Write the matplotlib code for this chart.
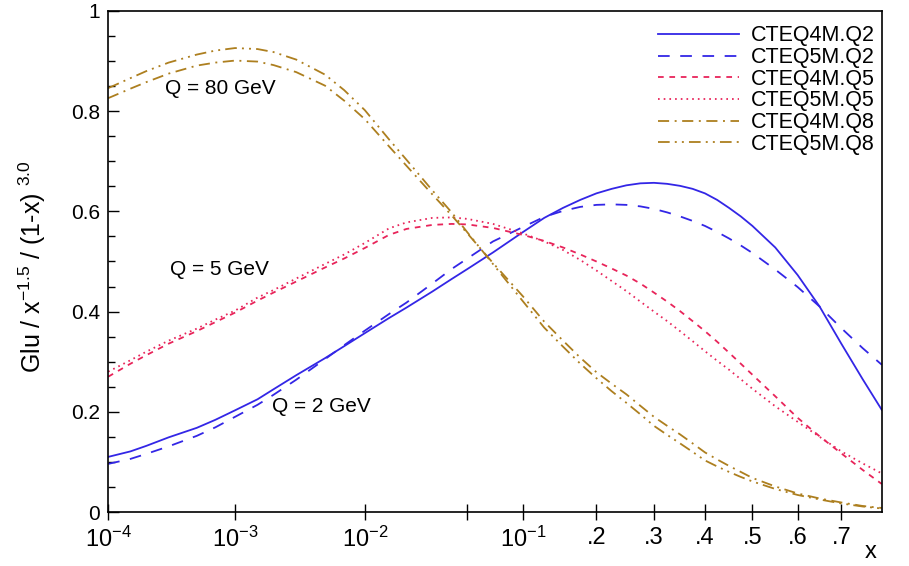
import numpy as np
import matplotlib
matplotlib.use('Agg')
import matplotlib.pyplot as plt
from matplotlib.ticker import FixedLocator, MultipleLocator, NullLocator

plt.rcParams['font.family'] = ['Liberation Sans', 'DejaVu Sans']
plt.rcParams['mathtext.fontset'] = 'custom'
plt.rcParams['mathtext.rm'] = 'Liberation Sans'
plt.rcParams['mathtext.default'] = 'regular'
plt.rcParams['lines.scale_dashes'] = False

# values
x = [1e-4, 1.5e-4, 2e-4, 3e-4, 5e-4, 7e-4, 1e-3, 1.5e-3, 2e-3, 3e-3, 5e-3, 7e-3,
     0.01, 0.015, 0.02, 0.03, 0.04, 0.05, 0.07, 0.1, 0.125, 0.15, 0.175, 0.2,
     0.225, 0.25, 0.275, 0.3, 0.325, 0.35, 0.375, 0.4, 0.425, 0.45, 0.475, 0.5,
     0.55, 0.6, 0.65, 0.7, 0.75, 0.795]

glu_4m_q2 = [0.110, 0.121, 0.132, 0.149, 0.168, 0.184, 0.203, 0.225, 0.245, 0.273, 0.307, 0.331,
             0.357, 0.387, 0.408, 0.440, 0.465, 0.485, 0.518, 0.559, 0.587, 0.607, 0.623, 0.636,
             0.645, 0.652, 0.656, 0.657, 0.655, 0.651, 0.645, 0.636, 0.623, 0.607, 0.590, 0.571,
             0.528, 0.473, 0.410, 0.336, 0.265, 0.204]
glu_5m_q2 = [0.096, 0.106, 0.116, 0.131, 0.152, 0.169, 0.190, 0.214, 0.234, 0.264, 0.305, 0.333,
             0.362, 0.395, 0.418, 0.456, 0.485, 0.506, 0.540, 0.569, 0.589, 0.601, 0.609, 0.613,
             0.614, 0.613, 0.610, 0.605, 0.598, 0.590, 0.581, 0.571, 0.559, 0.546, 0.532, 0.517,
             0.484, 0.449, 0.410, 0.367, 0.327, 0.294]
glu_4m_q5 = [0.270, 0.296, 0.313, 0.336, 0.361, 0.379, 0.398, 0.422, 0.438, 0.460, 0.488, 0.506,
             0.527, 0.553, 0.565, 0.573, 0.575, 0.574, 0.567, 0.553, 0.541, 0.528, 0.514, 0.500,
             0.486, 0.472, 0.456, 0.438, 0.420, 0.401, 0.381, 0.361, 0.340, 0.318, 0.296, 0.274,
             0.231, 0.188, 0.151, 0.117, 0.084, 0.056]
glu_5m_q5 = [0.280, 0.303, 0.320, 0.342, 0.366, 0.384, 0.402, 0.428, 0.443, 0.466, 0.495, 0.514,
             0.537, 0.566, 0.578, 0.587, 0.588, 0.585, 0.575, 0.556, 0.540, 0.523, 0.503, 0.482,
             0.461, 0.441, 0.420, 0.400, 0.381, 0.361, 0.341, 0.321, 0.302, 0.284, 0.265, 0.246,
             0.211, 0.180, 0.150, 0.121, 0.097, 0.077]
glu_4m_q8 = [0.826, 0.845, 0.858, 0.875, 0.891, 0.897, 0.901, 0.899, 0.892, 0.878, 0.851, 0.821,
             0.784, 0.730, 0.691, 0.634, 0.592, 0.556, 0.497, 0.430, 0.380, 0.342, 0.308, 0.279,
             0.256, 0.235, 0.212, 0.190, 0.172, 0.155, 0.137, 0.119, 0.105, 0.092, 0.080, 0.068,
             0.051, 0.037, 0.027, 0.019, 0.012, 0.008]
glu_5m_q8 = [0.846, 0.866, 0.880, 0.897, 0.913, 0.921, 0.926, 0.924, 0.918, 0.903, 0.873, 0.842,
             0.802, 0.744, 0.703, 0.642, 0.598, 0.558, 0.495, 0.420, 0.368, 0.330, 0.296, 0.267,
             0.241, 0.218, 0.195, 0.172, 0.154, 0.137, 0.120, 0.103, 0.091, 0.080, 0.070, 0.061,
             0.046, 0.034, 0.025, 0.017, 0.011, 0.007]

tick_pos = [1e-4, 1e-3, 1e-2, 0.05, 0.1, 0.2, 0.3, 0.4, 0.5, 0.6, 0.7]
tick_lab = ['$10^{-4}$', '$10^{-3}$', '$10^{-2}$', '', '$10^{-1}$', '.2', '.3', '.4', '.5', '.6', '.7']

blue = '#3326e6'
red = '#e8245a'
gold = '#ad7f1f'

# x axis: log at small x, linear at large x
K = 2.78

def fwd(v):
    v = np.clip(np.asarray(v, dtype=float), 1e-12, None)
    return np.log10(v) + K * v

def inv(y):
    y = np.asarray(y, dtype=float)
    with np.errstate(all='ignore'):
        u = np.minimum(y * np.log(10), 0.0)
        for it in range(60):
            e = np.exp(u)
            g = u / np.log(10) + K * e - y
            u = u - g / (1 / np.log(10) + K * e)
        return np.exp(u)

fig = plt.figure(figsize=(9.09, 5.66), dpi=100)
ax = fig.add_axes([0.119, 0.0954, 0.851, 0.8852])
ax.set_xscale('function', functions=(fwd, inv))

lw = 1.3
ax.plot(x, glu_4m_q2, color=blue, lw=lw, label='CTEQ4M.Q2')
ax.plot(x, glu_5m_q2, color=blue, lw=lw, dashes=(8.4, 7.6), label='CTEQ5M.Q2')
ax.plot(x, glu_4m_q5, color=red, lw=lw, dashes=(4.1, 4.1), label='CTEQ4M.Q5')
ax.plot(x, glu_5m_q5, color=red, lw=lw, dashes=(1.2, 2.9), label='CTEQ5M.Q5')
ax.plot(x, glu_4m_q8, color=gold, lw=lw, dashes=(8, 4, 1.4, 4), label='CTEQ4M.Q8')
ax.plot(x, glu_5m_q8, color=gold, lw=lw, dashes=(8.4, 3.7, 1.4, 3.7, 1.4, 3.7), label='CTEQ5M.Q8')

ax.set_xlim(1e-4, 0.795)
ax.set_ylim(0, 1)

ax.xaxis.set_major_locator(FixedLocator(tick_pos))
ax.set_xticklabels(tick_lab, fontsize=17)
ax.xaxis.set_minor_locator(NullLocator())
ax.set_yticks([0, 0.2, 0.4, 0.6, 0.8, 1.0])
ax.set_yticklabels(['0', '0.2', '0.4', '0.6', '0.8', '1'], fontsize=15)
ax.yaxis.set_minor_locator(MultipleLocator(0.05))

ax.tick_params(axis='x', direction='inout', length=11, width=1, pad=5)
ax.tick_params(axis='y', which='major', direction='in', length=8, width=1, pad=6)
ax.tick_params(axis='y', which='minor', direction='in', length=5, width=1)
for s in ax.spines.values():
    s.set_linewidth(1.2)

ax.set_ylabel('Glu / x$^{-1.5}$ / (1-x) $^{3.0}$', fontsize=18)
ax.yaxis.set_label_coords(-0.078, 0.49)
fig.text(871 / 909, 1 - 552 / 566, 'x', fontsize=17, ha='center', va='center')

ax.text(2.8e-4, 0.846, 'Q = 80 GeV', fontsize=15, va='center')
ax.text(3.1e-4, 0.485, 'Q = 5 GeV', fontsize=15, va='center')
ax.text(1.94e-3, 0.21, 'Q = 2 GeV', fontsize=15, va='center')

ax.legend(loc='upper right', bbox_to_anchor=(1.0, 0.984), frameon=False, fontsize=15.5,
          handlelength=3.8, labelspacing=0.03, handletextpad=0.55, borderpad=0.15,
          borderaxespad=0.15)

fig.savefig('out.png', dpi=100)
